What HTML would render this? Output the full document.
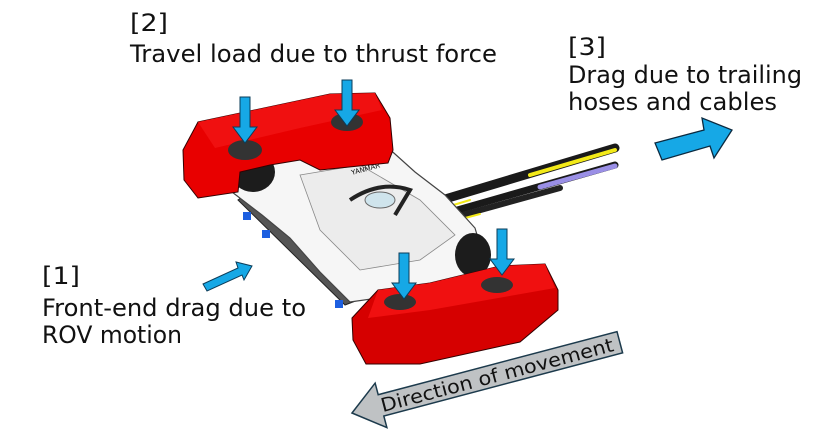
<!DOCTYPE html>
<html><head><meta charset="utf-8"><style>
html,body{margin:0;padding:0;background:#fff;width:838px;height:440px;overflow:hidden}
svg{display:block}
text{font-family:"DejaVu Sans","Liberation Sans",sans-serif;fill:#111}
</style></head><body>
<svg width="838" height="440" viewBox="0 0 838 440">
<defs>
<g id="down"><path d="M-5,0 H5 V30 H12 L0,46 L-12,30 H-5 Z" fill="#16a8e6" stroke="#0b3d5a" stroke-width="1"/></g>
</defs>
<!-- hoses -->
<g stroke-linecap="round">
<line x1="425" y1="205" x2="615" y2="148" stroke="#1a1a1a" stroke-width="9"/>
<line x1="530" y1="175" x2="615" y2="150" stroke="#f3ea18" stroke-width="4"/>
<line x1="440" y1="215" x2="615" y2="165" stroke="#1a1a1a" stroke-width="7"/>
<line x1="540" y1="187" x2="615" y2="166" stroke="#9a8fe6" stroke-width="5"/>
<line x1="430" y1="224" x2="560" y2="188" stroke="#222" stroke-width="6"/>
<line x1="430" y1="212" x2="470" y2="200" stroke="#f3ea18" stroke-width="2"/>
<line x1="450" y1="222" x2="480" y2="214" stroke="#f3ea18" stroke-width="2"/>
</g>
<!-- frame rail -->
<path d="M238,200 L345,305 L358,300 L250,192 Z" fill="#555" stroke="#222"/>
<!-- chassis body -->
<path d="M232,192 L285,155 L330,145 L385,145 L415,172 L445,195 L475,228 L485,262 L455,285 L400,295 L350,302 L320,272 L290,238 L262,215 Z" fill="#f6f6f6" stroke="#444" stroke-width="1.2"/>
<path d="M300,175 L360,165 L420,200 L455,235 L420,260 L360,270 L320,230 Z" fill="#ececec" stroke="#888" stroke-width="0.8"/>
<path d="M350,200 Q380,180 410,190 L395,215" fill="none" stroke="#222" stroke-width="4"/>
<ellipse cx="380" cy="200" rx="15" ry="8" fill="#cfe4ec" stroke="#666"/>
<text x="352" y="175" font-size="7" fill="#c00" transform="rotate(-15 352 175)">YANMAR</text>
<!-- wheels -->
<ellipse cx="253" cy="172" rx="22" ry="20" fill="#1c1c1c"/>
<ellipse cx="353" cy="140" rx="20" ry="18" fill="#1c1c1c"/>
<ellipse cx="473" cy="255" rx="18" ry="22" fill="#1c1c1c"/>
<!-- blue blocks -->
<rect x="243" y="212" width="8" height="8" fill="#1d5fe0"/>
<rect x="262" y="230" width="8" height="8" fill="#1d5fe0"/>
<rect x="335" y="300" width="8" height="8" fill="#1d5fe0"/>
<!-- rear bumper -->
<path d="M183,150 L198,122 L330,94 L375,93 L390,118 L393,150 L388,163 L320,170 L300,160 L270,165 L240,172 L238,192 L198,198 L184,180 Z" fill="#e80000" stroke="#300" stroke-width="1"/>
<path d="M198,122 L330,94 L375,93 L382,110 L300,128 L215,148 Z" fill="#f01010"/>
<ellipse cx="245" cy="150" rx="17" ry="10" fill="#333"/>
<ellipse cx="347" cy="122" rx="16" ry="9" fill="#333"/>
<!-- front bumper -->
<path d="M352,318 L378,290 L430,283 L500,266 L545,264 L558,290 L558,310 L520,342 L420,364 L366,364 L353,340 Z" fill="#d60000" stroke="#300" stroke-width="1"/>
<path d="M378,290 L430,283 L500,266 L545,264 L555,288 L430,310 L368,318 Z" fill="#f01010"/>
<ellipse cx="400" cy="302" rx="16" ry="8" fill="#333"/>
<ellipse cx="497" cy="285" rx="16" ry="8" fill="#333"/>
<!-- down arrows -->
<use href="#down" x="245" y="97"/>
<use href="#down" x="347" y="80"/>
<use href="#down" x="404" y="253"/>
<use href="#down" x="502" y="229"/>
<!-- [3] arrow -->
<path d="M655,143 L704,130 L702,118 L732,130 L714,158 L710,146 L662,160 Z" fill="#16a8e6" stroke="#0b2a40" stroke-width="1.3"/>
<!-- [1] arrow -->
<path d="M203,284 L238,268 L236,262 L252,266 L244,280 L242,275 L207,291 Z" fill="#16a8e6" stroke="#0b3d5a" stroke-width="1"/>
<!-- direction arrow -->
<g transform="translate(352,413) rotate(-14.8)">
<path d="M0,0 L30,-23 L30,-11 L277,-11 L277,11 L30,11 L30,23 Z" fill="#bfc2c4" stroke="#1c3a4c" stroke-width="1.5"/>
<text x="30" y="7" font-size="19" textLength="240" lengthAdjust="spacingAndGlyphs">Direction of movement</text>
</g>
<!-- labels -->
<g font-size="24">
<text x="130" y="31" textLength="38" lengthAdjust="spacingAndGlyphs">[2]</text>
<text x="130" y="62" textLength="367" lengthAdjust="spacingAndGlyphs">Travel load due to thrust force</text>
<text x="568" y="55" textLength="38" lengthAdjust="spacingAndGlyphs">[3]</text>
<text x="568" y="83" textLength="234" lengthAdjust="spacingAndGlyphs">Drag due to trailing</text>
<text x="568" y="110" textLength="209" lengthAdjust="spacingAndGlyphs">hoses and cables</text>
<text x="42" y="284" textLength="38" lengthAdjust="spacingAndGlyphs">[1]</text>
<text x="42" y="316" textLength="264" lengthAdjust="spacingAndGlyphs">Front-end drag due to</text>
<text x="42" y="343" textLength="140" lengthAdjust="spacingAndGlyphs">ROV motion</text>
</g>
</svg>
</body></html>
